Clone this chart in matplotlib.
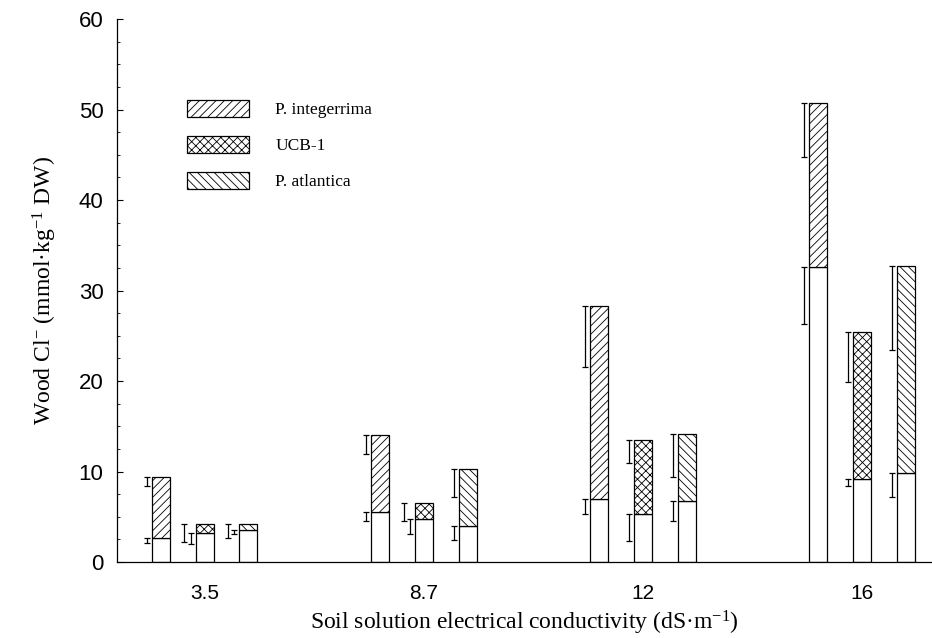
import matplotlib
matplotlib.use("Agg")
import matplotlib.pyplot as plt
from matplotlib.patches import Patch
from matplotlib.ticker import MultipleLocator
import numpy as np

plt.rcParams['hatch.linewidth'] = 0.6
plt.rcParams['mathtext.fontset'] = 'custom'
plt.rcParams['mathtext.rm'] = 'Liberation Serif'
plt.rcParams['mathtext.default'] = 'regular'

# Soil solution EC groups
categories = ['3.5', '8.7', '12', '16']
labels = ['P. integerrima', 'UCB-1', 'P. atlantica']
hatches = ['////', 'xxxx', '\\\\\\\\']

# lower (white) part and total bar height, with their error bars (drawn downwards)
bottom = {
    'P. integerrima': [2.7, 5.5, 7.0, 32.6],
    'UCB-1':          [3.2, 4.7, 5.3, 9.2],
    'P. atlantica':   [3.5, 4.0, 6.7, 9.8],
}
total = {
    'P. integerrima': [9.35, 14.0, 28.3, 50.7],
    'UCB-1':          [4.25, 6.5, 13.5, 25.4],
    'P. atlantica':   [4.2, 10.3, 14.1, 32.7],
}
bottom_err = {
    'P. integerrima': [0.65, 0.95, 1.7, 6.3],
    'UCB-1':          [1.2, 1.6, 3.0, 0.8],
    'P. atlantica':   [0.35, 1.6, 2.2, 2.6],
}
total_err = {
    'P. integerrima': [0.95, 2.1, 6.8, 6.0],
    'UCB-1':          [2.0, 2.0, 2.6, 5.5],
    'P. atlantica':   [1.6, 3.1, 4.7, 9.3],
}

fig = plt.figure(figsize=(9.32, 6.38), dpi=100)
ax = fig.add_axes([0.1259, 0.1191, 0.8741, 0.8511])

x = np.arange(len(categories))
w = 0.082
for i, name in enumerate(labels):
    xi = x + (i - 1) * 0.2
    b = np.array(bottom[name])
    t = np.array(total[name])
    ax.bar(xi, b, width=w, color='white', edgecolor='black', linewidth=0.9)
    ax.bar(xi, t - b, bottom=b, width=w, color='white', edgecolor='black',
           linewidth=0.9, hatch=hatches[i])
    # error bars sit just left of the bar; when the two overlap the upper one moves further left
    te = np.array(total_err[name])
    be = np.array(bottom_err[name])
    overlap = (t - te) < b
    xe = xi - 0.064
    xt = np.where(overlap, xe - 0.028, xe)
    ax.errorbar(xt, t, yerr=[te, np.zeros_like(te)], fmt='none', ecolor='black',
                elinewidth=0.9, capsize=2.2, capthick=0.9)
    ax.errorbar(xe, b, yerr=[be, np.zeros_like(be)], fmt='none', ecolor='black',
                elinewidth=0.9, capsize=2.2, capthick=0.9)

ax.set_xlim(-0.398, 3.319)
ax.set_ylim(0, 60)
ax.set_xticks(x)
ax.set_xticklabels(categories, fontfamily='Liberation Sans', fontsize=15)
ax.yaxis.set_major_locator(MultipleLocator(10))
ax.yaxis.set_minor_locator(MultipleLocator(2.5))
for lab in ax.get_yticklabels():
    lab.set_fontfamily('Liberation Sans')
    lab.set_fontsize(16)
ax.tick_params(axis='y', which='major', direction='in', length=4, width=0.8, pad=10)
ax.tick_params(axis='y', which='minor', direction='in', length=2.5, width=0.6)
ax.tick_params(axis='x', length=0, pad=16)
ax.spines['top'].set_visible(False)
ax.spines['right'].set_visible(False)
ax.spines['left'].set_linewidth(0.9)
ax.spines['bottom'].set_linewidth(0.9)

ax.set_xlabel('Soil solution electrical conductivity (dS·m$^{-1}$)',
              fontfamily='Liberation Serif', fontsize=17, labelpad=4)
ax.set_ylabel('Wood Cl$^{-}$ (mmol·kg$^{-1}$ DW)',
              fontfamily='Liberation Serif', fontsize=17, labelpad=14)

handles = [Patch(facecolor='white', edgecolor='black', linewidth=0.9, hatch=h) for h in hatches]
ax.legend(handles, labels, loc='upper left', bbox_to_anchor=(0.085, 0.851),
          frameon=False, borderpad=0, borderaxespad=0, handlelength=3.6,
          handleheight=1.15, labelspacing=1.0, handletextpad=1.5,
          prop={'family': 'Liberation Serif', 'size': 12.5})

plt.savefig('out.png', dpi=100)
